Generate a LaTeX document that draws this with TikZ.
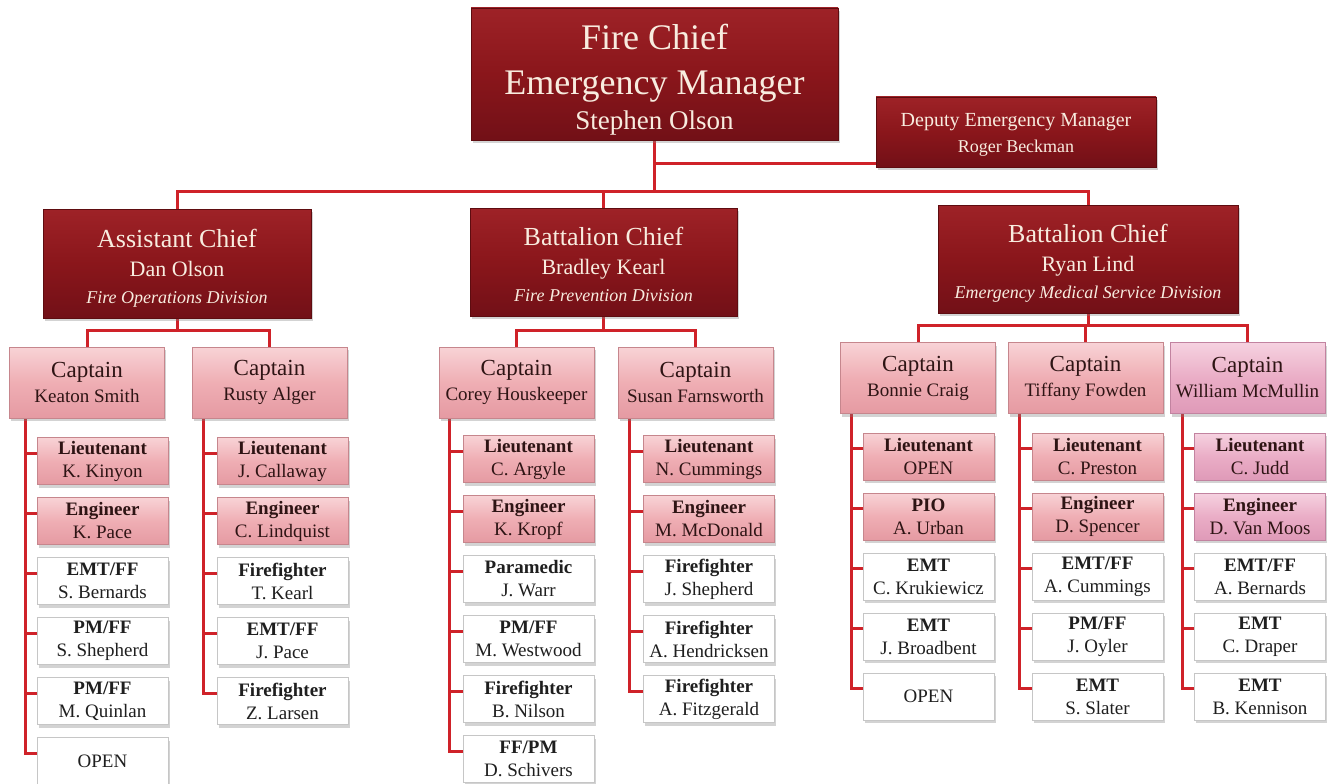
\documentclass[tikz,border=0pt]{standalone}
\usepackage{fontspec}
\setmainfont{Liberation Serif}
\usetikzlibrary{shadows,backgrounds}
\definecolor{connred}{HTML}{CF2229}
\definecolor{chiefT}{HTML}{9E2227}
\definecolor{chiefM}{HTML}{8A161B}
\definecolor{chiefB}{HTML}{721017}
\definecolor{chiefE}{HTML}{5E0C10}
\definecolor{cream}{HTML}{F8ECDF}
\definecolor{pinkT}{HTML}{F8D3D6}
\definecolor{pinkM}{HTML}{EFAEB4}
\definecolor{pinkB}{HTML}{E59AA2}
\definecolor{pinkE}{HTML}{C6868D}
\definecolor{mageT}{HTML}{F6D2E0}
\definecolor{mageM}{HTML}{EAADC6}
\definecolor{mageB}{HTML}{DF9AB8}
\definecolor{mageE}{HTML}{C283A0}
\definecolor{darktext}{HTML}{2E1414}
\begin{document}
\begin{tikzpicture}[x=1pt,y=-1pt,
  conn/.style={draw=connred,line width=3pt},
  base/.style={rectangle,inner sep=0pt,align=center,
    drop shadow={shadow xshift=1.5pt,shadow yshift=-3pt,opacity=0.35}},
  chief/.style={base,top color=chiefT,bottom color=chiefB,middle color=chiefM,
    draw=chiefE,line width=0.6pt,text=cream},
  pinkfill/.style={top color=pinkT,bottom color=pinkB,middle color=pinkM,
    draw=pinkE,line width=0.5pt,text=darktext},
  magefill/.style={top color=mageT,bottom color=mageB,middle color=mageM,
    draw=mageE,line width=0.5pt,text=darktext},
  capbox/.style={base,pinkfill,minimum width=155,minimum height=71,
    font=\fontsize{23}{25}\selectfont},
  capboxm/.style={capbox,magefill},
  pinkl/.style={base,pinkfill,minimum width=131,minimum height=47,
    font=\fontsize{19}{23}\selectfont},
  pinklm/.style={pinkl,magefill},
  whitel/.style={base,fill=white,draw=gray!45,line width=0.6pt,text=black!88,
    minimum width=131,minimum height=47,font=\fontsize{19}{23}\selectfont}
]
\useasboundingbox (0,0) rectangle (1334,784);

% ---------- top level ----------
\node[chief,minimum width=367,minimum height=132,font=\fontsize{36}{45}\selectfont] (fc) at (654.5,74)
  {\rule{0pt}{36pt}Fire Chief\\Emergency Manager\\[-10pt]{\fontsize{27}{30}\selectfont Stephen Olson}};
\node[chief,minimum width=280,minimum height=70,font=\fontsize{20}{26}\selectfont] (dep) at (1016,132)
  {\rule{0pt}{18pt}Deputy Emergency Manager\\{\fontsize{18}{20}\selectfont Roger Beckman}};

% ---------- division chiefs ----------
\node[chief,minimum width=268,minimum height=109,font=\fontsize{26}{29}\selectfont] (ac) at (177,263.5)
  {\rule{0pt}{28pt}Assistant Chief\\{\fontsize{22}{24}\selectfont Dan Olson}\\[-2pt]{\fontsize{18}{20}\selectfont\itshape Fire Operations Division}};
\node[chief,minimum width=267,minimum height=108,font=\fontsize{26}{29}\selectfont] (bc1) at (603.5,262)
  {\rule{0pt}{24pt}Battalion Chief\\{\fontsize{22}{24}\selectfont Bradley Kearl}\\[-2pt]{\fontsize{18}{20}\selectfont\itshape Fire Prevention Division}};
\node[chief,minimum width=300,minimum height=108,font=\fontsize{26}{29}\selectfont] (bc2) at (1088,259)
  {\rule{0pt}{26pt}Battalion Chief\\{\fontsize{22}{24}\selectfont Ryan Lind}\\[-2pt]{\fontsize{18}{20}\selectfont\itshape Emergency Medical Service Division}};

% ---------- captains ----------
\node[capbox] (kc) at (87,382.5) {Captain\\{\fontsize{19}{23}\selectfont Keaton Smith}};
\node[capbox] (rc) at (269.5,382.5) {Captain\\{\fontsize{19}{23}\selectfont Rusty Alger}};
\node[capbox] (cc) at (516.5,382.5) {Captain\\{\fontsize{19}{23}\selectfont Corey Houskeeper}};
\node[capbox] (sc) at (695.5,382.5) {Captain\\{\fontsize{19}{23}\selectfont Susan Farnsworth}};
\node[capbox] (bc) at (918,378) {Captain\\{\fontsize{19}{23}\selectfont Bonnie Craig}};
\node[capbox] (tc) at (1085.5,378) {Captain\\{\fontsize{19}{23}\selectfont Tiffany Fowden}};
\node[capboxm] (wc) at (1247.5,378) {Captain\\{\fontsize{19}{23}\selectfont William McMullin}};

% ---------- Keaton Smith column ----------
\node[pinkl] (k1) at (102.5,461) {\textbf{Lieutenant}\\K. Kinyon};
\node[pinkl] (k2) at (102.5,521) {\textbf{Engineer}\\K. Pace};
\node[whitel] (k3) at (102.5,581) {\textbf{EMT/FF}\\S. Bernards};
\node[whitel] (k4) at (102.5,641) {\textbf{PM/FF}\\S. Shepherd};
\node[whitel] (k5) at (102.5,701) {\textbf{PM/FF}\\M. Quinlan};
\node[whitel] (k6) at (102.5,761) {OPEN};

% ---------- Rusty Alger column ----------
\node[pinkl] (r1) at (282.5,461) {\textbf{Lieutenant}\\J. Callaway};
\node[pinkl] (r2) at (282.5,521) {\textbf{Engineer}\\C. Lindquist};
\node[whitel] (r3) at (282.5,581) {\textbf{Firefighter}\\T. Kearl};
\node[whitel] (r4) at (282.5,641) {\textbf{EMT/FF}\\J. Pace};
\node[whitel] (r5) at (282.5,701) {\textbf{Firefighter}\\Z. Larsen};

% ---------- Corey Houskeeper column ----------
\node[pinkl] (c1) at (528.5,459) {\textbf{Lieutenant}\\C. Argyle};
\node[pinkl] (c2) at (528.5,519) {\textbf{Engineer}\\K. Kropf};
\node[whitel] (c3) at (528.5,579) {\textbf{Paramedic}\\J. Warr};
\node[whitel] (c4) at (528.5,639) {\textbf{PM/FF}\\M. Westwood};
\node[whitel] (c5) at (528.5,699) {\textbf{Firefighter}\\B. Nilson};
\node[whitel] (c6) at (528.5,759) {\textbf{FF/PM}\\D. Schivers};

% ---------- Susan Farnsworth column ----------
\node[pinkl] (s1) at (709,459) {\textbf{Lieutenant}\\N. Cummings};
\node[pinkl] (s2) at (709,519) {\textbf{Engineer}\\M. McDonald};
\node[whitel] (s3) at (709,579) {\textbf{Firefighter}\\J. Shepherd};
\node[whitel] (s4) at (709,639) {\textbf{Firefighter}\\A. Hendricksen};
\node[whitel] (s5) at (709,699) {\textbf{Firefighter}\\A. Fitzgerald};

% ---------- Bonnie Craig column ----------
\node[pinkl] (b1) at (928.5,456.5) {\textbf{Lieutenant}\\OPEN};
\node[pinkl] (b2) at (928.5,516.5) {\textbf{PIO}\\A. Urban};
\node[whitel] (b3) at (928.5,576.5) {\textbf{EMT}\\C. Krukiewicz};
\node[whitel] (b4) at (928.5,636.5) {\textbf{EMT}\\J. Broadbent};
\node[whitel] (b5) at (928.5,696.5) {OPEN};

% ---------- Tiffany Fowden column ----------
\node[pinkl] (t1) at (1097.5,456.5) {\textbf{Lieutenant}\\C. Preston};
\node[pinkl] (t2) at (1097.5,516.5) {\textbf{Engineer}\\D. Spencer};
\node[whitel] (t3) at (1097.5,576.5) {\textbf{EMT/FF}\\A. Cummings};
\node[whitel] (t4) at (1097.5,636.5) {\textbf{PM/FF}\\J. Oyler};
\node[whitel] (t5) at (1097.5,696.5) {\textbf{EMT}\\S. Slater};

% ---------- William McMullin column ----------
\node[pinklm] (w1) at (1260,456.5) {\textbf{Lieutenant}\\C. Judd};
\node[pinklm] (w2) at (1260,516.5) {\textbf{Engineer}\\D. Van Moos};
\node[whitel] (w3) at (1260,576.5) {\textbf{EMT/FF}\\A. Bernards};
\node[whitel] (w4) at (1260,636.5) {\textbf{EMT}\\C. Draper};
\node[whitel] (w5) at (1260,696.5) {\textbf{EMT}\\B. Kennison};

% ---------- connectors ----------
\begin{pgfonlayer}{background}
\coordinate (bus) at (0,191);
\coordinate (depl) at (0,163);
\coordinate (sbl) at (0,330);
\coordinate (sbr) at (0,325);
\draw[conn] (fc.south) -- (fc.south |- bus);
\draw[conn] (fc.south |- depl) -- (dep.west |- depl);
\draw[conn] (ac.north) -- (ac.north |- bus) -- (bc2.north |- bus) -- (bc2.north);
\draw[conn] (bc1.north) -- (bc1.north |- bus);
% sub-buses
\draw[conn] (ac.south) -- (ac.south |- sbl);
\draw[conn] (kc.north) -- (kc.north |- sbl) -- (rc.north |- sbl) -- (rc.north);
\draw[conn] (bc1.south) -- (bc1.south |- sbl);
\draw[conn] (cc.north) -- (cc.north |- sbl) -- (sc.north |- sbl) -- (sc.north);
\draw[conn] (bc2.south) -- (bc2.south |- sbr);
\draw[conn] (bc.north) -- (bc.north |- sbr) -- (wc.north |- sbr) -- (wc.north);
\draw[conn] (tc.north) -- (tc.north |- sbr);
% spines
\coordinate (ksp) at (25,0);
\coordinate (rsp) at (203,0);
\coordinate (csp) at (449,0);
\coordinate (ssp) at (629,0);
\coordinate (bsp) at (851,0);
\coordinate (tsp) at (1019,0);
\coordinate (wsp) at (1182,0);
\foreach \i in {1,...,6} \draw[conn] ([yshift=8pt]k\i.west) -| (ksp |- kc.south);
\foreach \i in {1,...,5} \draw[conn] ([yshift=8pt]r\i.west) -| (rsp |- rc.south);
\foreach \i in {1,...,6} \draw[conn] ([yshift=8pt]c\i.west) -| (csp |- cc.south);
\foreach \i in {1,...,5} \draw[conn] ([yshift=8pt]s\i.west) -| (ssp |- sc.south);
\foreach \i in {1,...,5} \draw[conn] ([yshift=8pt]b\i.west) -| (bsp |- bc.south);
\foreach \i in {1,...,5} \draw[conn] ([yshift=8pt]t\i.west) -| (tsp |- tc.south);
\foreach \i in {1,...,5} \draw[conn] ([yshift=8pt]w\i.west) -| (wsp |- wc.south);
\end{pgfonlayer}
\end{tikzpicture}
\end{document}
